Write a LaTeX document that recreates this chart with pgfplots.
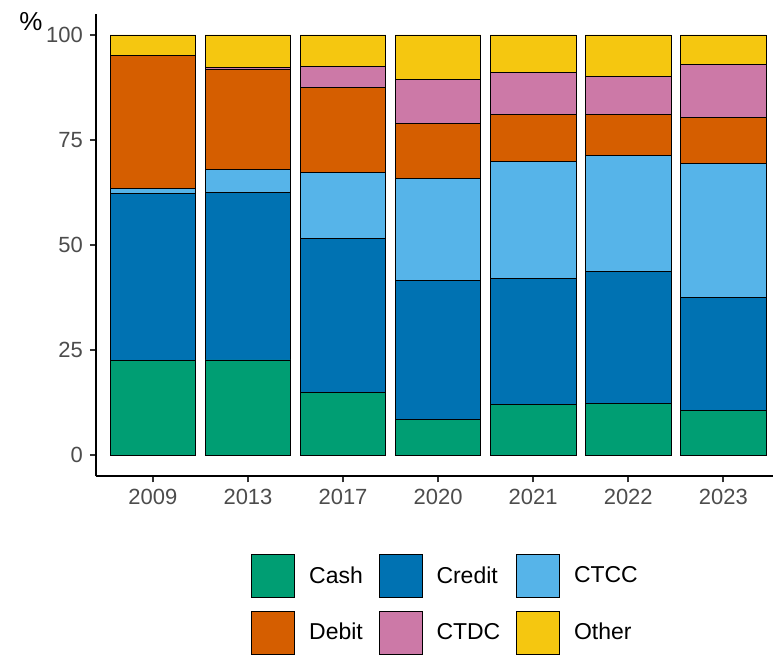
\documentclass[border=0pt]{standalone}
\usepackage{pgfplots}
\pgfplotsset{compat=1.18}
\usepackage{pgfplotstable}
\usepackage{fontspec}
\setmainfont{Liberation Sans}

\definecolor{cashc}{HTML}{009E73}
\definecolor{creditc}{HTML}{0072B2}
\definecolor{ctccc}{HTML}{56B4E9}
\definecolor{debitc}{HTML}{D55E00}
\definecolor{ctdcc}{HTML}{CC79A7}
\definecolor{otherc}{HTML}{F5C710}

% shares (percent) per year, bottom to top
\pgfplotstableread{
x year cash credit ctcc debit ctdc other
0 2009 22.6 39.6 1.2 31.8 0.0 4.8
1 2013 22.7 39.9 5.5 23.8 0.4 7.7
2 2017 15.0 36.6 15.8 20.2 5.0 7.4
3 2020 8.6 33.0 24.3 13.0 10.5 10.6
4 2021 12.2 29.8 27.9 11.3 9.9 8.9
5 2022 12.4 31.4 27.5 9.7 9.2 9.8
6 2023 10.7 26.8 31.9 11.0 12.5 7.1
}\sharestab

\pgfplotsset{
  seg/.style={fill=#1, draw=black, line width=0.4pt,
    legend image code/.code={\draw[fill=#1, draw=black, line width=0.4pt] (0pt,-10.75pt) rectangle (21.5pt,10.75pt);}},
}

\begin{document}
\begin{tikzpicture}
\begin{axis}[
  scale only axis, width=339pt, height=231.5pt,
  xmin=-0.6, xmax=6.523, ymin=-5, ymax=105,
  clip=false,
  ybar stacked, bar width=0.9,
  axis x line=bottom, axis y line=left,
  axis line style={-, line width=1pt, black},
  xtick={0,1,2,3,4,5,6},
  xticklabels={2009,2013,2017,2020,2021,2022,2023},
  ytick={0,25,50,75,100},
  tick align=outside, major tick length=3pt,
  tick style={line width=0.9pt, black!80},
  ticklabel style={font=\fontsize{11}{13}\selectfont, text=black!70},
  /pgf/number format/assume math mode=true,
  legend columns=3, legend cell align=left,
  legend style={draw=none, fill=none, inner sep=0pt,
    at={(0.518,-0.168)}, anchor=north,
    font=\fontsize{11.5}{14}\selectfont,
    row sep=6.5pt,
    /tikz/every odd column/.append style={column sep=5pt},
    /tikz/every even column/.append style={column sep=6pt}},
]
\addplot[seg=cashc] table[x=x, y=cash] {\sharestab};
\addlegendentry{Cash}
\addplot[seg=creditc] table[x=x, y=credit] {\sharestab};
\addlegendentry{Credit}
\addplot[seg=ctccc] table[x=x, y=ctcc] {\sharestab};
\addlegendentry{CTCC}
\addplot[seg=debitc] table[x=x, y=debit] {\sharestab};
\addlegendentry{Debit}
\addplot[seg=ctdcc] table[x=x, y=ctdc] {\sharestab};
\addlegendentry{CTDC}
\addplot[seg=otherc] table[x=x, y=other] {\sharestab};
\addlegendentry{Other}
\node[font=\fontsize{13}{15}\selectfont, xshift=-32.5pt, yshift=-4pt] at (rel axis cs:0,1) {\%};
\coordinate (sw) at (rel axis cs:0,0);
\coordinate (ne) at (rel axis cs:1,1);
\end{axis}
\path (sw) +(-48pt,-89.5pt);
\path (ne) +(0pt,7pt);
\end{tikzpicture}
\end{document}
